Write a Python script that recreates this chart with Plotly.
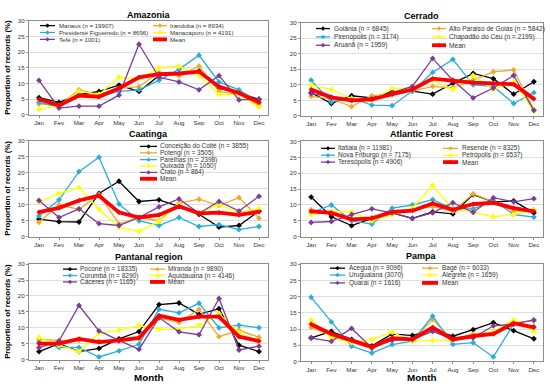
import plotly.graph_objects as go

# ---------------- data ----------------
months = ["Jan", "Fev", "Mar", "Apr", "May", "Jun", "Jul", "Aug", "Sep", "Oct", "Nov", "Dec"]
y_tick_vals = [0, 5, 10, 15, 20, 25, 30]

# Amazonia
amazonia_labels = ["Manaus (n = 19907)", "Iranduba (n = 8934)", "Presidente Figueiredo (n = 8696)",
                   "Manacapuru (n = 4191)", "Tefé (n = 1001)", "Mean"]
amazonia_manaus = [5.5, 4.0, 6.5, 7.5, 9.5, 7.5, 12.5, 13.0, 14.0, 8.5, 7.0, 5.0]
amazonia_iranduba = [3.5, 3.0, 8.0, 6.5, 8.5, 9.0, 13.5, 12.5, 15.5, 7.5, 6.5, 3.0]
amazonia_pfigueiredo = [4.0, 2.5, 6.5, 6.0, 7.5, 8.0, 11.0, 14.5, 19.0, 10.5, 8.0, 4.0]
amazonia_manacapuru = [1.8, 3.0, 7.5, 6.5, 12.0, 11.5, 15.0, 15.5, 12.5, 6.5, 6.5, 2.5]
amazonia_tefe = [11.0, 2.2, 2.8, 2.8, 6.3, 22.5, 12.0, 10.5, 8.0, 12.5, 4.8, 5.0]
amazonia_mean = [5.0, 3.0, 6.2, 5.8, 8.5, 12.0, 13.0, 13.2, 13.8, 9.0, 7.0, 4.0]

# Cerrado
cerrado_labels = ["Goiânia (n = 6845)", "Alto Paraiso de Goiás (n = 5842)", "Pirenópolis (n = 3174)",
                  "Chapadão do Céu (n = 2199)", "Aruanã (n = 1959)", "Mean"]
cerrado_goiania = [7.5, 4.0, 6.5, 5.8, 7.8, 8.0, 7.0, 10.5, 13.7, 12.0, 7.0, 11.0]
cerrado_altoparaiso = [6.3, 5.5, 3.0, 6.5, 6.8, 8.0, 9.5, 9.0, 11.5, 14.2, 14.8, 2.0]
cerrado_pirenopolis = [11.5, 4.5, 5.8, 3.5, 3.3, 8.0, 14.0, 18.2, 10.0, 9.5, 4.0, 7.5]
cerrado_chapadao = [10.0, 8.5, 5.5, 5.0, 8.8, 9.0, 11.5, 8.5, 13.0, 8.5, 11.0, 1.5]
cerrado_aruana = [7.2, 6.0, 5.0, 5.5, 7.5, 9.5, 18.5, 11.5, 5.8, 9.0, 13.0, 1.8]
cerrado_mean = [8.5, 6.0, 5.0, 5.3, 7.0, 8.5, 12.0, 11.3, 10.7, 10.5, 10.2, 5.5]

# Caatinga
caatinga_labels = ["Conceição do Coité (n = 3855)", "Potengi (n = 3505)", "Parelhas (n = 2398)",
                   "Quixadá (n = 1050)", "Crato (n = 864)", "Mean"]
caatinga_coite = [5.5, 4.7, 4.6, 13.5, 17.3, 11.0, 11.5, 9.5, 7.0, 3.0, 3.5, 8.0]
caatinga_potengi = [4.5, 10.0, 8.5, 13.2, 4.0, 6.0, 5.0, 10.5, 11.7, 9.7, 12.2, 5.8]
caatinga_parelhas = [6.5, 11.5, 20.3, 24.8, 10.2, 5.0, 3.5, 6.0, 3.2, 3.8, 2.2, 3.2]
caatinga_quixada = [10.8, 13.5, 15.3, 8.5, 3.0, 1.7, 4.8, 10.0, 7.5, 10.0, 7.5, 8.8]
caatinga_crato = [11.3, 6.0, 8.7, 4.1, 3.5, 6.0, 9.3, 11.8, 7.3, 11.0, 8.0, 12.6]
caatinga_mean = [7.7, 9.0, 11.3, 12.8, 7.6, 6.0, 6.8, 9.5, 7.3, 7.5, 6.8, 7.8]

# Atlantic Forest
atlantic_labels = ["Itatiaia (n = 11981)", "Resende (n = 8325)", "Nova Friburgo (n = 7175)",
                   "Petrópolis (n = 6537)", "Teresópolis (n = 4906)", "Mean"]
atlantic_itatiaia = [12.5, 6.3, 3.5, 5.8, 7.5, 5.8, 7.8, 7.2, 13.3, 11.0, 11.3, 7.5]
atlantic_resende = [8.5, 7.5, 5.0, 6.0, 7.0, 8.5, 9.5, 8.0, 13.5, 11.0, 8.0, 8.5]
atlantic_novafriburgo = [7.5, 10.0, 5.0, 4.0, 9.0, 10.0, 11.7, 8.8, 8.8, 11.5, 7.0, 6.2]
atlantic_petropolis = [7.0, 8.0, 7.8, 5.0, 7.0, 9.0, 16.2, 8.5, 7.8, 6.3, 7.0, 8.5]
atlantic_teresopolis = [4.5, 4.8, 7.0, 8.8, 7.5, 5.8, 7.5, 10.7, 7.7, 12.3, 11.0, 12.0]
atlantic_mean = [8.0, 7.5, 5.5, 5.8, 7.8, 8.2, 10.5, 8.5, 10.3, 10.7, 9.0, 8.0]

# Pantanal region
pantanal_labels = ["Poconé (n = 18335)", "Miranda (n = 9890)", "Corumbá (n = 8290)",
                   "Aquidauana (n = 4146)", "Cáceres (n = 1165)", "Mean"]
pantanal_pocone = [2.5, 5.0, 2.5, 3.5, 6.5, 8.8, 17.3, 17.8, 14.2, 16.0, 4.5, 2.5]
pantanal_miranda = [6.3, 6.0, 6.0, 5.8, 5.8, 6.5, 13.0, 11.7, 15.8, 7.2, 9.2, 7.0]
pantanal_corumba = [5.5, 3.8, 3.8, 0.8, 2.7, 4.8, 15.8, 14.7, 17.7, 10.0, 10.8, 10.0]
pantanal_aquidauana = [7.0, 4.5, 2.5, 8.3, 9.2, 10.7, 9.5, 9.5, 10.8, 14.5, 8.5, 5.5]
pantanal_caceres = [3.7, 5.8, 17.0, 9.0, 6.0, 3.2, 13.2, 8.7, 7.8, 19.2, 3.0, 4.2]
pantanal_mean = [5.0, 5.0, 6.5, 5.5, 6.0, 6.8, 13.8, 12.5, 13.5, 13.5, 7.2, 5.8]

# Pampa
pampa_labels = ["Aceguá (n = 9096)", "Bagé (n = 6033)", "Uruguaiana (3070)",
                "Alegrete (n = 1659)", "Quaraí (n = 1616)", "Mean"]
pampa_acegua = [7.3, 9.3, 6.8, 4.8, 8.5, 8.0, 10.0, 7.8, 9.8, 12.0, 9.5, 7.0]
pampa_bage = [10.5, 8.0, 6.0, 4.0, 6.8, 6.5, 13.0, 6.5, 8.5, 9.0, 12.0, 12.5]
pampa_uruguaiana = [19.8, 12.2, 4.7, 2.6, 5.2, 6.3, 14.0, 5.3, 5.8, 1.4, 11.5, 10.8]
pampa_alegrete = [12.8, 7.3, 5.8, 6.8, 9.0, 6.3, 6.5, 6.5, 7.8, 9.3, 12.8, 9.2]
pampa_quarai = [7.2, 6.2, 10.2, 4.2, 6.5, 6.8, 9.3, 6.8, 7.3, 11.0, 11.5, 12.8]
pampa_mean = [11.5, 8.5, 6.5, 4.5, 7.2, 6.8, 10.5, 6.8, 7.8, 8.5, 11.8, 10.5]

panel_titles = ["Amazonia", "Cerrado", "Caatinga", "Atlantic Forest", "Pantanal region", "Pampa"]

# ---------------- styling / layout ----------------
W, H = 550, 390
series_colors = ["#000000", "#F2A92A", "#2AAED9", "#FFFF00", "#7A3D9A", "#FF0000"]
FONT = "Liberation Sans, Arial, sans-serif"

panels = [
    (amazonia_labels, [amazonia_manaus, amazonia_iranduba, amazonia_pfigueiredo,
                       amazonia_manacapuru, amazonia_tefe, amazonia_mean]),
    (cerrado_labels, [cerrado_goiania, cerrado_altoparaiso, cerrado_pirenopolis,
                      cerrado_chapadao, cerrado_aruana, cerrado_mean]),
    (caatinga_labels, [caatinga_coite, caatinga_potengi, caatinga_parelhas,
                       caatinga_quixada, caatinga_crato, caatinga_mean]),
    (atlantic_labels, [atlantic_itatiaia, atlantic_resende, atlantic_novafriburgo,
                       atlantic_petropolis, atlantic_teresopolis, atlantic_mean]),
    (pantanal_labels, [pantanal_pocone, pantanal_miranda, pantanal_corumba,
                       pantanal_aquidauana, pantanal_caceres, pantanal_mean]),
    (pampa_labels, [pampa_acegua, pampa_bage, pampa_uruguaiana,
                    pampa_alegrete, pampa_quarai, pampa_mean]),
]

# plot-area boxes in pixels: (left, right, top, bottom)
boxes = [
    (29, 268, 17, 113), (301, 543, 19, 114),
    (29, 268, 139, 237), (301, 543, 140, 237),
    (29, 268, 265, 362), (301, 543, 265, 364),
]
title_y = [11, 12, 132, 132, 258, 257]

# legend layout in pixels: columns (line x0, line x1, text x), row ys, font size
legend_specs = [
    ([(40, 55, 57), (153, 167, 168)], [22, 29, 36], 6.1),
    ([(316, 330, 332), (432, 446, 447)], [25, 33.5, 42], 6.6),
    ([(140, 157, 158)], [145, 151.5, 158.5, 165, 171.5, 178], 6.5),
    ([(321, 335, 336), (443, 458, 460)], [147, 154, 161], 6.5),
    ([(63, 77, 78), (150, 165, 166)], [270, 276.5, 283], 6.5),
    ([(330, 345, 347), (422, 438, 440)], [269, 276, 284], 6.5),
]


def px(x):
    return x / W


def py(y):
    return 1 - y / H


fig = go.Figure()
shapes = []
annotations = []

for i, (labels, series) in enumerate(panels):
    k = i + 1
    xa = "x" if k == 1 else f"x{k}"
    ya = "y" if k == 1 else f"y{k}"
    for j, (lab, vals) in enumerate(zip(labels, series)):
        is_mean = j == 5
        fig.add_trace(go.Scatter(
            x=months, y=vals, name=lab, mode="lines+markers",
            xaxis=xa, yaxis=ya, showlegend=False,
            line=dict(color=series_colors[j], width=3.8 if is_mean else 1.3),
            marker=dict(symbol="diamond", size=4 if is_mean else 4.5, color=series_colors[j]),
        ))

    l, r, t, b = boxes[i]
    axis_common = dict(showline=True, linecolor="#8c8c8c", linewidth=1, mirror=True,
                       ticks="outside", ticklen=2, tickcolor="#8c8c8c",
                       tickfont=dict(family=FONT, size=6.2, color="#333333"))
    fig.update_layout(**{
        ("xaxis" if k == 1 else f"xaxis{k}"): dict(
            domain=[px(l), px(r)], anchor=ya, type="category",
            categoryorder="array", categoryarray=months,
            range=[-0.5, 11.45], showgrid=False, **axis_common),
        ("yaxis" if k == 1 else f"yaxis{k}"): dict(
            domain=[py(b), py(t)], anchor=xa, range=[0, 30],
            tickvals=y_tick_vals, showgrid=True, gridcolor="#dedede", gridwidth=0.7,
            zeroline=False, **axis_common),
    })

    # panel title
    annotations.append(dict(text=f"<b>{panel_titles[i]}</b>", x=px((l + r) / 2), y=py(title_y[i]),
                            xref="paper", yref="paper", showarrow=False, xanchor="center",
                            yanchor="middle", font=dict(family=FONT, size=9, color="#000000")))

    # manual compact legend
    cols, rows, fsize = legend_specs[i]
    ncol = len(cols)
    for j, lab in enumerate(labels):
        c = cols[j % ncol]
        yy = rows[j // ncol]
        is_mean = j == 5
        shapes.append(dict(type="line", xref="paper", yref="paper",
                           x0=px(c[0]), x1=px(c[1]), y0=py(yy), y1=py(yy),
                           line=dict(color=series_colors[j], width=3.8 if is_mean else 1.3)))
        shapes.append(dict(type="path", xref="paper", yref="paper",
                           xsizemode="pixel", ysizemode="pixel",
                           xanchor=px((c[0] + c[1]) / 2), yanchor=py(yy),
                           path="M -2.2 0 L 0 2.2 L 2.2 0 L 0 -2.2 Z",
                           fillcolor=series_colors[j], line=dict(width=0)))
        annotations.append(dict(text=lab, x=px(c[2]), y=py(yy), xref="paper", yref="paper",
                                showarrow=False, xanchor="left", yanchor="middle",
                                font=dict(family=FONT, size=fsize, color="#333333")))

# y-axis titles (left column)
for (l, r, t, b) in [boxes[0], boxes[2], boxes[4]]:
    annotations.append(dict(text="<b>Proportion of records (%)</b>", x=px(8), y=py((t + b) / 2),
                            xref="paper", yref="paper", showarrow=False, textangle=-90,
                            xanchor="center", yanchor="middle",
                            font=dict(family=FONT, size=7.8, color="#000000")))

# x-axis titles (bottom row)
for (l, r, t, b) in [boxes[4], boxes[5]]:
    annotations.append(dict(text="<b>Month</b>", x=px((l + r) / 2), y=py(380.5),
                            xref="paper", yref="paper", showarrow=False,
                            xanchor="center", yanchor="middle",
                            font=dict(family=FONT, size=9.8, color="#000000")))

fig.update_layout(
    width=W, height=H, margin=dict(l=0, r=0, t=0, b=0),
    paper_bgcolor="#ffffff", plot_bgcolor="#ffffff",
    showlegend=False, shapes=shapes, annotations=annotations,
    font=dict(family=FONT),
)

fig.write_html(
    "out.html",
    config={"displayModeBar": False},
    post_script="document.body.style.margin='0';document.body.style.padding='0';"
                "document.body.style.overflow='hidden';",
)
